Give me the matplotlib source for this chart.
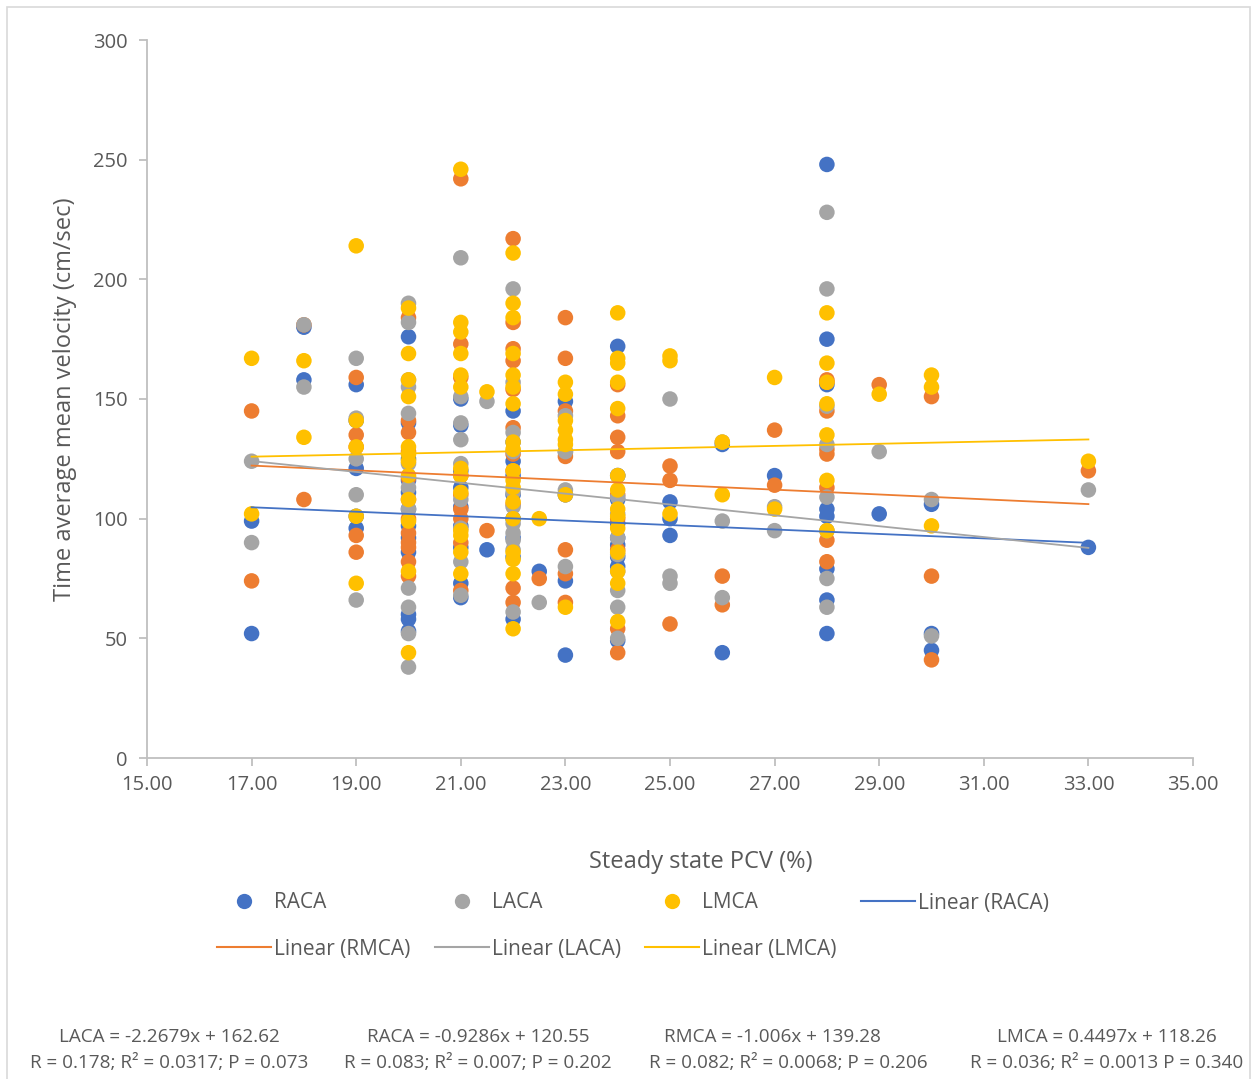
import matplotlib
matplotlib.use('Agg')
import matplotlib.pyplot as plt
from matplotlib.lines import Line2D
from matplotlib.patches import Rectangle
import numpy as np

plt.rcParams['font.family'] = ['Open Sans', 'DejaVu Sans']

# velocities, grouped by steady state PCV (%)
raca = {17: [99, 52], 18: [158, 180], 19: [156, 121, 96, 141, 101],
        20: [176, 140, 116, 111, 97, 92, 86, 60, 58, 53, 125, 104],
        21: [150, 139, 120, 105, 97, 88, 73, 67, 113], 21.5: [87],
        22: [124, 118, 110, 100, 92, 84, 58, 132, 145], 22.5: [78],
        23: [149, 128, 110, 74, 43],
        24: [172, 118, 108, 98, 92, 89, 84, 80, 49], 25: [107, 100, 93],
        26: [44, 131], 27: [118], 28: [248, 175, 104, 101, 79, 66, 52, 156],
        29: [102], 30: [106, 52, 45], 33: [88]}

rmca = {17: [145, 74], 18: [181, 108], 19: [159, 135, 93, 86, 130],
        20: [184, 141, 136, 108, 94, 90, 82, 128, 100, 117, 88, 76],
        21: [242, 173, 159, 104, 100, 70, 118, 90, 110], 21.5: [95],
        22: [217, 182, 171, 166, 154, 138, 127, 106, 71, 65, 120], 22.5: [75],
        23: [184, 167, 145, 126, 87, 77, 65],
        24: [156, 143, 134, 128, 54, 44, 110, 100, 87], 25: [122, 116, 56],
        26: [76, 64], 27: [137, 114], 28: [158, 129, 127, 113, 91, 82, 157, 145],
        29: [156], 30: [151, 76, 41], 33: [120]}

laca = {17: [124, 90], 18: [181, 155], 19: [167, 142, 125, 110, 66],
        20: [190, 182, 158, 155, 144, 123, 113, 104, 71, 63, 52, 38],
        21: [209, 151, 140, 133, 123, 108, 82, 68, 96], 21.5: [149],
        22: [196, 157, 136, 111, 98, 94, 91, 61, 128, 105, 87], 22.5: [65],
        23: [143, 112, 80, 110, 128],
        24: [118, 109, 92, 85, 70, 63, 50, 102, 78], 25: [150, 76, 73],
        26: [132, 99, 67], 27: [105, 95], 28: [228, 196, 147, 109, 75, 63, 131, 95],
        29: [128], 30: [108, 51], 33: [112]}

lmca = {17: [167, 102], 18: [166, 134], 19: [214, 141, 130, 101, 73],
        20: [188, 169, 158, 151, 130, 127, 124, 108, 99, 78, 44, 118],
        21: [246, 182, 178, 169, 160, 155, 121, 118, 111, 95, 93, 86, 77],
        21.5: [153],
        22: [211, 190, 184, 169, 160, 155, 148, 132, 129, 120, 116, 113, 107,
             100, 86, 83, 77, 54],
        22.5: [100], 23: [157, 152, 141, 137, 133, 131, 110, 63],
        24: [186, 167, 165, 157, 146, 118, 112, 104, 101, 96, 86, 78, 73, 57],
        25: [168, 166, 102], 26: [132, 110], 27: [159, 104],
        28: [186, 165, 157, 148, 135, 116, 95], 29: [152], 30: [160, 155, 97],
        33: [124]}

# trend line coefficients as printed under the chart
names = ['RACA', 'RMCA', 'LACA', 'LMCA']
slopes = [-0.9286, -1.006, -2.2679, 0.4497]
intercepts = [120.55, 139.28, 162.62, 118.26]
colors = ['#4472C4', '#ED7D31', '#A5A5A5', '#FFC000']

eq_lines = [('LACA = -2.2679x + 162.62', 'R = 0.178; R² = 0.0317; P = 0.073'),
            ('RACA = -0.9286x + 120.55', 'R = 0.083; R² = 0.007; P = 0.202'),
            ('RMCA = -1.006x + 139.28', 'R = 0.082; R² = 0.0068; P = 0.206'),
            ('LMCA = 0.4497x + 118.26', 'R = 0.036; R² = 0.0013 P = 0.340')]


def flatten(d):
    xs, ys = [], []
    for k, vals in d.items():
        xs += [k] * len(vals)
        ys += vals
    return np.array(xs, dtype=float), np.array(ys, dtype=float)


W, H = 1252, 1079
fig = plt.figure(figsize=(W / 100, H / 100), dpi=100)
ax = fig.add_axes([147 / W, 1 - 758 / H, (1193 - 147) / W, (758 - 40) / H])

txt = '#595959'
axc = '#BFBFBF'

scat = {}
for name, d, c in zip(names, [raca, rmca, laca, lmca], colors):
    x, y = flatten(d)
    scat[name] = ax.scatter(x, y, s=125, color=c, edgecolors='none', zorder=2)

trend = {}
for name, m, b, c, d in zip(names, slopes, intercepts, colors,
                            [raca, rmca, laca, lmca]):
    x, _ = flatten(d)
    xx = np.array([x.min(), x.max()])
    trend[name], = ax.plot(xx, m * xx + b, color=c, lw=1.3, zorder=3)

ax.set_xlim(15, 35)
ax.set_ylim(0, 300)
ax.set_xticks(np.arange(15, 36, 2))
ax.set_xticklabels(['%.2f' % v for v in np.arange(15, 36, 2)])
ax.set_yticks(np.arange(0, 301, 50))
for s in ['top', 'right']:
    ax.spines[s].set_visible(False)
for s in ['left', 'bottom']:
    ax.spines[s].set_color(axc)
    ax.spines[s].set_linewidth(1.3)
ax.tick_params(colors=axc, labelcolor=txt, labelsize=14.5, length=6,
               width=1.3, direction='out')
ax.tick_params(axis='x', pad=6)
ax.tick_params(axis='y', pad=8)

fig.text(65 / W, 1 - 399 / H, 'Time average mean velocity (cm/sec)',
         rotation=90, ha='center', va='center', fontsize=17, color=txt)
fig.text(701 / W, 1 - 862 / H, 'Steady state PCV (%)', ha='center',
         va='center', fontsize=17, color=txt)

# legend: RMCA points entry is missing in the original
def pt(c):
    return Line2D([], [], ls='none', marker='o', ms=11, color=c, mec='none')

def ln(c):
    return Line2D([], [], color=c, lw=1.5)

handles = [pt(colors[0]), ln(colors[1]), pt(colors[2]), ln(colors[2]),
           pt(colors[3]), ln(colors[3]), ln(colors[0])]
labels = ['RACA', 'Linear (RMCA)', 'LACA', 'Linear (LACA)', 'LMCA',
          'Linear (LMCA)', 'Linear (RACA)']
leg = fig.legend(handles, labels, ncol=4, loc='center',
                 bbox_to_anchor=(633 / W, 1 - 926 / H), frameon=False,
                 fontsize=15, handlelength=2.6, handletextpad=0.15,
                 columnspacing=1.15, labelspacing=1.2)
for t in leg.get_texts():
    t.set_color(txt)

# light chart border
fig.add_artist(Rectangle((7 / W, -0.05), (1250 - 7) / W, 1.05 - 7 / H,
                         transform=fig.transFigure, fill=False,
                         edgecolor='#D9D9D9', lw=1.2))

centers = [(169, 169), (478, 478), (772, 788), (1107, 1107)]
for (l1, l2), (c1, c2) in zip(eq_lines, centers):
    fig.text(c1 / W, 1 - 1037 / H, l1, ha='center', va='center',
             fontsize=13.6, color=txt)
    fig.text(c2 / W, 1 - 1063 / H, l2, ha='center', va='center',
             fontsize=13.6, color=txt)

fig.savefig('out.png', dpi=100, facecolor='white')
